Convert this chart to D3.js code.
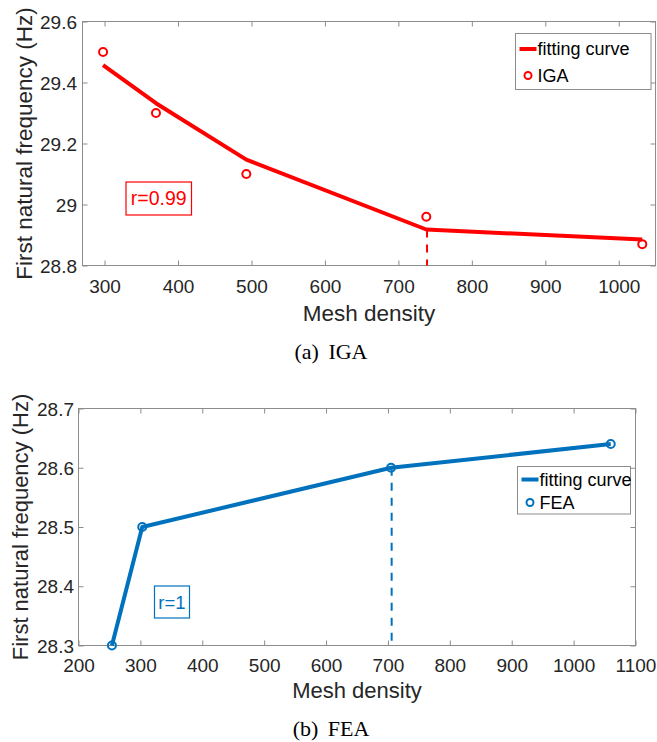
<!DOCTYPE html>
<html><head><meta charset="utf-8">
<script src="https://cdn.jsdelivr.net/npm/d3@7"></script>
<style>
html,body{margin:0;padding:0;background:#fff;}
svg{display:block;}
text{font-family:"Liberation Sans",Arial,Helvetica,sans-serif;}
.cap{font-family:"Liberation Serif","Times New Roman",serif;}
</style></head>
<body>
<svg id="chart" width="657" height="742"></svg>
<script>
// ---- data ----
const igaMesh = [298, 370, 493, 738, 1032];
const igaFreq = [29.50, 29.30, 29.10, 28.96, 28.87];
const igaFitFreq = [29.457, 29.332, 29.147, 28.918, 28.885];
const igaDashMesh = 739;
const igaXTicks = [300, 400, 500, 600, 700, 800, 900, 1000];
const igaYTicks = [28.8, 29, 29.2, 29.4, 29.6];
const igaYTickLabels = ["28.8", "29", "29.2", "29.4", "29.6"];

const feaMesh = [254, 303, 705, 1060];
const feaFreq = [28.30, 28.50, 28.60, 28.64];
const feaFitFreq = [28.30, 28.50, 28.60, 28.64];
const feaDashMesh = 706;
const feaXTicks = [200, 300, 400, 500, 600, 700, 800, 900, 1000, 1100];
const feaYTicks = [28.3, 28.4, 28.5, 28.6, 28.7];
const feaYTickLabels = ["28.3", "28.4", "28.5", "28.6", "28.7"];

const xLabel = "Mesh density";
const yLabel = "First natural frequency (Hz)";

const svg = d3.select("#chart");
const frameColor = "#8c8c8c";
const textColor = "#262626";

function panel(cfg) {
  const x = d3.scaleLinear().domain(cfg.xDomain).range([cfg.left, cfg.right]);
  const y = d3.scaleLinear().domain(cfg.yDomain).range([cfg.bottom, cfg.top]);
  const g = svg.append("g");
  const tl = 5;

  // axes (inside ticks on all sides)
  const ax = (gen, tr) => {
    const a = g.append("g").attr("transform", tr).call(gen);
    a.select(".domain").remove();
    a.selectAll(".tick line").attr("stroke", frameColor).attr("stroke-width", 1);
    return a;
  };
  const xb = ax(d3.axisBottom(x).tickValues(cfg.xTicks).tickSizeInner(-tl).tickSizeOuter(0).tickFormat(d3.format("d")),
     `translate(0,${cfg.bottom})`);
  xb.selectAll(".tick text").attr("dy", null).attr("y", cfg.xTickBase - cfg.bottom)
    .attr("font-size", cfg.tickFont).attr("fill", textColor).attr("font-family", null);
  ax(d3.axisTop(x).tickValues(cfg.xTicks).tickSizeInner(-tl).tickSizeOuter(0).tickFormat(""),
     `translate(0,${cfg.top})`);
  const yl = ax(d3.axisLeft(y).tickValues(cfg.yTicks).tickSizeInner(-tl).tickSizeOuter(0)
       .tickFormat((d, i) => cfg.yTickLabels[i]), `translate(${cfg.left},0)`);
  yl.selectAll(".tick text").attr("x", cfg.yTickRight - cfg.left).attr("dy", "0.35em")
    .attr("font-size", cfg.tickFont).attr("fill", textColor).attr("font-family", null);
  ax(d3.axisRight(y).tickValues(cfg.yTicks).tickSizeInner(-tl).tickSizeOuter(0).tickFormat(""),
     `translate(${cfg.right},0)`);
  g.selectAll(".tick").attr("font-family", null);
  g.selectAll("g").attr("font-family", null).attr("font-size", null);

  // frame
  g.append("rect").attr("x", cfg.left).attr("y", cfg.top)
    .attr("width", cfg.right - cfg.left).attr("height", cfg.bottom - cfg.top)
    .attr("fill", "none").attr("stroke", frameColor).attr("stroke-width", 1);

  // dashed marker line
  const fitAt = cfg.fit[cfg.mesh.indexOf(cfg.dashRef)];
  g.append("line")
    .attr("x1", x(cfg.dashMesh)).attr("x2", x(cfg.dashMesh))
    .attr("y1", y(fitAt)).attr("y2", y(cfg.yDomain[0]))
    .attr("stroke", cfg.color).attr("stroke-width", 2).attr("stroke-dasharray", "8,7");

  // fitting curve
  const line = d3.line().x(d => x(d[0])).y(d => y(d[1]));
  g.append("path").datum(cfg.mesh.map((m, i) => [m, cfg.fit[i]]))
    .attr("d", line).attr("fill", "none").attr("stroke", cfg.color)
    .attr("stroke-width", 4).attr("stroke-linejoin", "round");

  // markers
  g.selectAll("circle.pt").data(cfg.mesh.map((m, i) => [m, cfg.freq[i]]))
    .join("circle").attr("class", "pt")
    .attr("cx", d => x(d[0])).attr("cy", d => y(d[1])).attr("r", 4)
    .attr("fill", "none").attr("stroke", cfg.color).attr("stroke-width", 2);

  // r box
  const rb = cfg.rBox;
  g.append("rect").attr("x", rb.x).attr("y", rb.y).attr("width", rb.w).attr("height", rb.h)
    .attr("fill", "#fff").attr("stroke", cfg.color).attr("stroke-width", 1.2);
  g.append("text").attr("x", rb.x + rb.w / 2).attr("y", rb.base).attr("text-anchor", "middle")
    .attr("font-size", rb.font).attr("fill", cfg.color).text(rb.text);

  // legend
  const lg = cfg.legend;
  g.append("rect").attr("x", lg.x).attr("y", lg.y).attr("width", lg.w).attr("height", lg.h)
    .attr("fill", "#fff").attr("stroke", frameColor).attr("stroke-width", 1);
  g.append("line").attr("x1", lg.x + 4).attr("x2", lg.x + 21).attr("y1", lg.row1).attr("y2", lg.row1)
    .attr("stroke", cfg.color).attr("stroke-width", 4);
  g.append("circle").attr("cx", lg.x + 12.5).attr("cy", lg.row2).attr("r", 3.5)
    .attr("fill", "none").attr("stroke", cfg.color).attr("stroke-width", 2);
  g.append("text").attr("x", lg.x + 22).attr("y", lg.row1).attr("dy", "0.35em")
    .attr("font-size", lg.font).attr("fill", "#000").text("fitting curve");
  g.append("text").attr("x", lg.x + 22).attr("y", lg.row2).attr("dy", "0.35em")
    .attr("font-size", lg.font).attr("fill", "#000").text(cfg.seriesName);

  // axis labels
  g.append("text").attr("x", (cfg.left + cfg.right) / 2).attr("y", cfg.xLabelBase)
    .attr("text-anchor", "middle").attr("font-size", cfg.labelFont).attr("fill", textColor).text(xLabel);
  g.append("text").attr("transform", `translate(${cfg.yLabelBase},${(cfg.top + cfg.bottom) / 2}) rotate(-90)`)
    .attr("text-anchor", "middle").attr("font-size", cfg.labelFont).attr("fill", textColor).text(yLabel);

  // caption
  g.append("text").attr("class", "cap").attr("x", cfg.capX).attr("y", cfg.capBase)
    .attr("text-anchor", "middle").attr("font-size", 22).attr("fill", "#000")
    .attr("word-spacing", "4px").text(cfg.caption);
}

panel({
  xDomain: [270, 1050], yDomain: [28.8, 29.6],
  left: 82.5, right: 655.5, top: 21.5, bottom: 265.5,
  xTicks: igaXTicks, yTicks: igaYTicks, yTickLabels: igaYTickLabels,
  xTickBase: 293, yTickRight: 77, tickFont: 19,
  mesh: igaMesh, freq: igaFreq, fit: igaFitFreq,
  dashMesh: igaDashMesh, dashRef: 738,
  color: "#ff0000", seriesName: "IGA",
  rBox: {x: 126, y: 182, w: 65.5, h: 33, base: 205, font: 19.5, text: "r=0.99"},
  legend: {x: 515.5, y: 33.5, w: 135.5, h: 56, row1: 49, row2: 75.5, font: 18},
  labelFont: 22.5, xLabelBase: 321, yLabelBase: 32,
  caption: "(a) IGA", capX: 331, capBase: 359
});

panel({
  xDomain: [200, 1100], yDomain: [28.3, 28.7],
  left: 78.5, right: 635.5, top: 408.5, bottom: 645.5,
  xTicks: feaXTicks, yTicks: feaYTicks, yTickLabels: feaYTickLabels,
  xTickBase: 671.5, yTickRight: 74, tickFont: 19,
  mesh: feaMesh, freq: feaFreq, fit: feaFitFreq,
  dashMesh: feaDashMesh, dashRef: 705,
  color: "#0072bd", seriesName: "FEA",
  rBox: {x: 154.5, y: 586, w: 35, h: 32, base: 609, font: 18.5, text: "r=1"},
  legend: {x: 517.5, y: 466.5, w: 113, h: 47.5, row1: 479.5, row2: 502.5, font: 18},
  labelFont: 22, xLabelBase: 698, yLabelBase: 28,
  caption: "(b) FEA", capX: 331, capBase: 735.5
});
</script>
</body></html>
